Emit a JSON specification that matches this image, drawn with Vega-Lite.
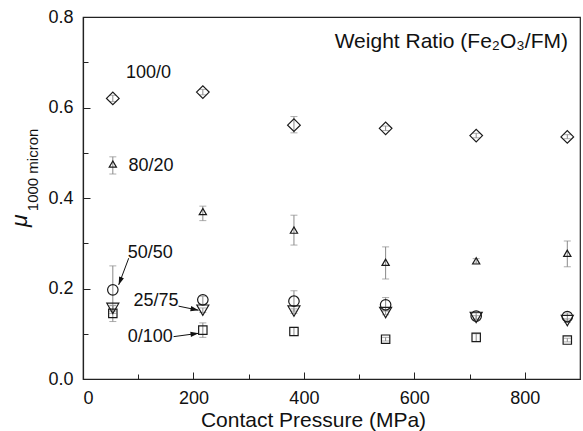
{
  "$schema": "https://vega.github.io/schema/vega-lite/v6.json",
  "width": 497,
  "height": 362,
  "autosize": {"type": "none"},
  "padding": {"left": 83, "top": 17, "right": 3, "bottom": 52},
  "background": "white",
  "config": {
    "font": "Liberation Sans",
    "view": {"stroke": "#222", "strokeWidth": 1.2},
    "axis": {"grid": false, "domainColor": "#222", "tickColor": "#222", "labelColor": "#111", "titleColor": "#111", "labelFont": "Liberation Sans", "titleFont": "Liberation Sans", "labelFontSize": 18, "titleFontSize": 21, "titleFontWeight": "normal", "domainWidth": 1.2, "tickWidth": 1}
  },
  "datasets": {
    "pts": [
      {"p": 54, "mu": 0.620, "lo": 0.613, "hi": 0.627, "ratio": "100/0"},
      {"p": 217, "mu": 0.634, "lo": 0.628, "hi": 0.640, "ratio": "100/0"},
      {"p": 382, "mu": 0.561, "lo": 0.544, "hi": 0.580, "ratio": "100/0"},
      {"p": 548, "mu": 0.554, "lo": 0.549, "hi": 0.559, "ratio": "100/0"},
      {"p": 712, "mu": 0.538, "lo": 0.533, "hi": 0.543, "ratio": "100/0"},
      {"p": 877, "mu": 0.535, "lo": 0.531, "hi": 0.540, "ratio": "100/0"},
      {"p": 54, "mu": 0.475, "lo": 0.453, "hi": 0.491, "ratio": "80/20"},
      {"p": 217, "mu": 0.370, "lo": 0.350, "hi": 0.382, "ratio": "80/20"},
      {"p": 382, "mu": 0.329, "lo": 0.296, "hi": 0.362, "ratio": "80/20"},
      {"p": 548, "mu": 0.258, "lo": 0.221, "hi": 0.292, "ratio": "80/20"},
      {"p": 712, "mu": 0.261, "lo": 0.256, "hi": 0.266, "ratio": "80/20"},
      {"p": 877, "mu": 0.278, "lo": 0.248, "hi": 0.305, "ratio": "80/20"},
      {"p": 54, "mu": 0.197, "lo": 0.145, "hi": 0.250, "ratio": "50/50"},
      {"p": 217, "mu": 0.175, "lo": 0.165, "hi": 0.183, "ratio": "50/50"},
      {"p": 382, "mu": 0.172, "lo": 0.150, "hi": 0.195, "ratio": "50/50"},
      {"p": 548, "mu": 0.164, "lo": 0.150, "hi": 0.180, "ratio": "50/50"},
      {"p": 712, "mu": 0.139, "lo": 0.132, "hi": 0.146, "ratio": "50/50"},
      {"p": 877, "mu": 0.138, "lo": 0.130, "hi": 0.146, "ratio": "50/50"},
      {"p": 54, "mu": 0.156, "lo": 0.150, "hi": 0.162, "ratio": "25/75"},
      {"p": 217, "mu": 0.152, "lo": 0.147, "hi": 0.157, "ratio": "25/75"},
      {"p": 382, "mu": 0.150, "lo": 0.145, "hi": 0.155, "ratio": "25/75"},
      {"p": 548, "mu": 0.147, "lo": 0.142, "hi": 0.152, "ratio": "25/75"},
      {"p": 712, "mu": 0.136, "lo": 0.132, "hi": 0.140, "ratio": "25/75"},
      {"p": 877, "mu": 0.129, "lo": 0.125, "hi": 0.133, "ratio": "25/75"},
      {"p": 54, "mu": 0.145, "lo": 0.127, "hi": 0.163, "ratio": "0/100"},
      {"p": 217, "mu": 0.108, "lo": 0.092, "hi": 0.124, "ratio": "0/100"},
      {"p": 382, "mu": 0.105, "lo": 0.096, "hi": 0.114, "ratio": "0/100"},
      {"p": 548, "mu": 0.088, "lo": 0.084, "hi": 0.092, "ratio": "0/100"},
      {"p": 712, "mu": 0.092, "lo": 0.083, "hi": 0.100, "ratio": "0/100"},
      {"p": 877, "mu": 0.086, "lo": 0.082, "hi": 0.090, "ratio": "0/100"}
    ],
    "labels": [
      {"p": 118.7, "mu": 0.677, "text": "100/0"},
      {"p": 123.3, "mu": 0.470, "text": "80/20"},
      {"p": 121.8, "mu": 0.278, "text": "50/50"},
      {"p": 132.3, "mu": 0.173, "text": "25/75"},
      {"p": 121.8, "mu": 0.092, "text": "0/100"}
    ],
    "arrows": [
      {"ratio": "50/50", "p": 82.8, "mu": 0.267, "p2": 64.6, "mu2": 0.208},
      {"ratio": "25/75", "p": 173, "mu": 0.161, "p2": 209.2, "mu2": 0.152},
      {"ratio": "0/100", "p": 164, "mu": 0.0936, "p2": 209.2, "mu2": 0.101}
    ],
    "titles": [
      {"p": 667, "mu": 0.745, "text": "Weight Ratio (Fe₂O₃/FM)"}
    ],
    "ytitle": [
      {"p": -113.5, "mu": 0.35, "text": "μ"}
    ],
    "ysub": [
      {"p": -90, "mu": 0.462, "text": "1000 micron"}
    ]
  },
  "layer": [
    {
      "data": {"name": "pts"},
      "mark": {"type": "errorbar", "ticks": {"size": 7, "color": "#8a8a8a"}, "rule": {"color": "#8a8a8a"}},
      "encoding": {
        "x": {"field": "p", "type": "quantitative"},
        "y": {"field": "lo", "type": "quantitative"},
        "y2": {"field": "hi"}
      }
    },
    {
      "data": {"name": "pts"},
      "mark": {"type": "point", "filled": false, "stroke": "#1a1a1a", "strokeWidth": 1.2, "opacity": 1},
      "encoding": {
        "x": {"field": "p", "type": "quantitative", "scale": {"domain": [0, 900], "nice": false},
          "axis": {"title": "Contact Pressure (MPa)", "values": [0, 100, 200, 300, 400, 500, 600, 700, 800],
            "labelExpr": "datum.value % 200 === 0 ? datum.label : ''",
            "tickSize": {"condition": {"test": "datum.value % 200 === 0", "value": -7}, "value": -5},
            "labelPadding": 17, "titleX": 230, "titleY": 41, "titleBaseline": "middle", "titleAnchor": "middle"}},
        "y": {"field": "mu", "type": "quantitative", "scale": {"domain": [0, 0.8], "nice": false},
          "axis": {"title": null, "values": [0, 0.1, 0.2, 0.3, 0.4, 0.5, 0.6, 0.7, 0.8], "format": ".1f",
            "labelExpr": "round(datum.value * 10) % 2 === 0 ? datum.label : ''",
            "tickSize": {"condition": {"test": "round(datum.value * 10) % 2 === 0", "value": -7}, "value": -5},
            "labelPadding": 17}},
        "shape": {"field": "ratio", "type": "nominal", "legend": null,
          "scale": {"domain": ["100/0", "80/20", "50/50", "25/75", "0/100"], "range": ["diamond", "triangle-up", "circle", "triangle-down", "square"]}},
        "size": {"field": "ratio", "type": "nominal", "legend": null,
          "scale": {"type": "ordinal", "domain": ["100/0", "80/20", "50/50", "25/75", "0/100"], "range": [160, 52, 110, 144, 70]}}
      }
    },
    {
      "data": {"name": "arrows"},
      "mark": {"type": "rule", "color": "#111", "strokeWidth": 1},
      "encoding": {
        "x": {"field": "p", "type": "quantitative"},
        "y": {"field": "mu", "type": "quantitative"},
        "x2": {"field": "p2"},
        "y2": {"field": "mu2"}
      }
    },
    {
      "data": {"name": "arrows"},
      "transform": [{"filter": "datum.ratio === '50/50'"}],
      "mark": {"type": "point", "shape": "M0,0L-0.32,1L0.32,1Z", "filled": true, "color": "#111", "size": 256, "angle": 200.7, "opacity": 1},
      "encoding": {
        "x": {"field": "p2", "type": "quantitative"},
        "y": {"field": "mu2", "type": "quantitative"}
      }
    },
    {
      "data": {"name": "arrows"},
      "transform": [{"filter": "datum.ratio === '25/75'"}],
      "mark": {"type": "point", "shape": "M0,0L-0.32,1L0.32,1Z", "filled": true, "color": "#111", "size": 256, "angle": 101.5, "opacity": 1},
      "encoding": {
        "x": {"field": "p2", "type": "quantitative"},
        "y": {"field": "mu2", "type": "quantitative"}
      }
    },
    {
      "data": {"name": "arrows"},
      "transform": [{"filter": "datum.ratio === '0/100'"}],
      "mark": {"type": "point", "shape": "M0,0L-0.32,1L0.32,1Z", "filled": true, "color": "#111", "size": 256, "angle": 82.4, "opacity": 1},
      "encoding": {
        "x": {"field": "p2", "type": "quantitative"},
        "y": {"field": "mu2", "type": "quantitative"}
      }
    },
    {
      "data": {"name": "labels"},
      "mark": {"type": "text", "fontSize": 18, "color": "#111", "align": "center", "baseline": "middle"},
      "encoding": {
        "x": {"field": "p", "type": "quantitative"},
        "y": {"field": "mu", "type": "quantitative"},
        "text": {"field": "text"}
      }
    },
    {
      "data": {"name": "titles"},
      "mark": {"type": "text", "fontSize": 21, "color": "#111", "align": "center", "baseline": "middle"},
      "encoding": {
        "x": {"field": "p", "type": "quantitative"},
        "y": {"field": "mu", "type": "quantitative"},
        "text": {"field": "text"}
      }
    },
    {
      "data": {"name": "ytitle"},
      "mark": {"type": "text", "fontSize": 23, "fontStyle": "italic", "color": "#111", "align": "center", "baseline": "middle", "angle": 270},
      "encoding": {
        "x": {"field": "p", "type": "quantitative"},
        "y": {"field": "mu", "type": "quantitative"},
        "text": {"field": "text"}
      }
    },
    {
      "data": {"name": "ysub"},
      "mark": {"type": "text", "fontSize": 15, "color": "#111", "align": "center", "baseline": "middle", "angle": 270},
      "encoding": {
        "x": {"field": "p", "type": "quantitative"},
        "y": {"field": "mu", "type": "quantitative"},
        "text": {"field": "text"}
      }
    }
  ]
}
